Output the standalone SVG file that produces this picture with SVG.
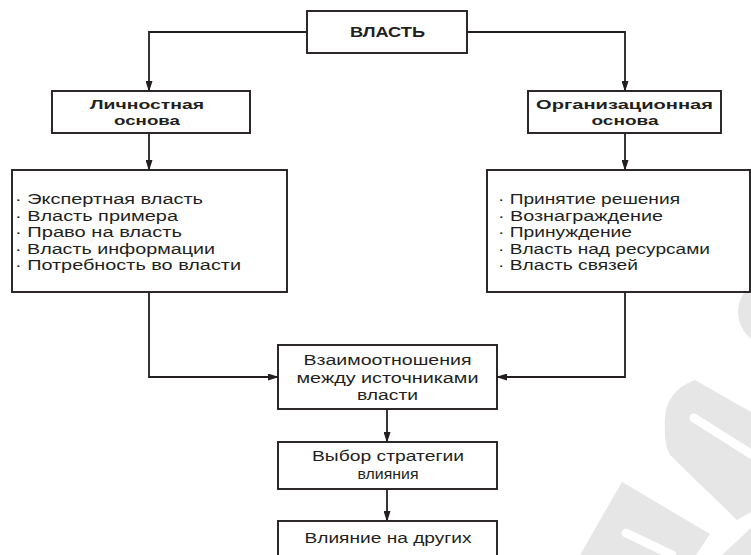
<svg xmlns="http://www.w3.org/2000/svg" width="751" height="555" viewBox="0 0 751 555">
<style>
.box{fill:#fff;stroke:#231f20;stroke-width:1.9}
.con{fill:none;stroke:#231f20;stroke-width:1.8}
text{font-family:"Liberation Sans",Arial,sans-serif;fill:#231f20;font-size:14px}
.b{font-weight:bold;font-size:13.5px}
.c{text-anchor:middle}
.wm{fill:#e6e6e6}
</style>
<defs>
<marker id="ah" markerUnits="userSpaceOnUse" markerWidth="11" markerHeight="7" refX="10" refY="3.5" orient="auto">
<path d="M0,0 L11,3.5 L0,7 z" fill="#231f20"/>
</marker>
</defs>
<rect width="751" height="555" fill="#fff"/>
<g id="watermark">
<circle class="wm" cx="772" cy="312" r="34"/>
<path class="wm" d="M665,428 Q662,392 695,380 L751,412 L751,512 L737,520 L670,455 Q664,445 665,428 z"/>
<path d="M694,418 L751,454" stroke="#fff" stroke-width="9" stroke-linecap="round" fill="none"/>
<path class="wm" d="M622,482 L710,534 L696,555 L580,555 z"/>
<path d="M626,533 L672,555" stroke="#fff" stroke-width="9" stroke-linecap="round" fill="none"/>
<path class="wm" d="M751,528 L751,555 L722,555 z"/>
</g>
<g id="connectors">
<path class="con" d="M307,32 H149 V91" marker-end="url(#ah)"/>
<path class="con" d="M467,32 H625 V91" marker-end="url(#ah)"/>
<path class="con" d="M149,133 V170" marker-end="url(#ah)"/>
<path class="con" d="M625,133 V170" marker-end="url(#ah)"/>
<path class="con" d="M149,292 V377 H278" marker-end="url(#ah)"/>
<path class="con" d="M625,292 V377 H497" marker-end="url(#ah)"/>
<path class="con" d="M387,409 V442" marker-end="url(#ah)"/>
<path class="con" d="M387,489 V521" marker-end="url(#ah)"/>
</g>
<g id="vlast">
<rect class="box" x="307" y="11" width="160" height="42"/>
<text class="b c" x="387.5" y="37" style="font-size:14.5px" textLength="75" lengthAdjust="spacingAndGlyphs">ВЛАСТЬ</text>
</g>
<g id="lichnostnaya">
<rect class="box" x="52" y="91" width="198" height="42"/>
<text class="b c" x="147" y="109" textLength="114" lengthAdjust="spacingAndGlyphs">Личностная</text>
<text class="b c" x="147" y="125" textLength="66" lengthAdjust="spacingAndGlyphs">основа</text>
</g>
<g id="organizacionnaya">
<rect class="box" x="528" y="91" width="193" height="42"/>
<text class="b c" x="624.5" y="109" textLength="177" lengthAdjust="spacingAndGlyphs">Организационная</text>
<text class="b c" x="625" y="125" textLength="67" lengthAdjust="spacingAndGlyphs">основа</text>
</g>
<g id="lich-list">
<rect class="box" x="12" y="170" width="275" height="122"/>
<text x="15" y="204" textLength="188" lengthAdjust="spacingAndGlyphs">· Экспертная власть</text>
<text x="15" y="220.5" textLength="163" lengthAdjust="spacingAndGlyphs">· Власть примера</text>
<text x="15" y="237" textLength="167" lengthAdjust="spacingAndGlyphs">· Право на власть</text>
<text x="15" y="253.5" textLength="200" lengthAdjust="spacingAndGlyphs">· Власть информации</text>
<text x="15" y="270" textLength="226" lengthAdjust="spacingAndGlyphs">· Потребность во власти</text>
</g>
<g id="org-list">
<rect class="box" x="487" y="170" width="263" height="122"/>
<text x="498" y="204" textLength="182" lengthAdjust="spacingAndGlyphs">· Принятие решения</text>
<text x="498" y="220.5" textLength="165" lengthAdjust="spacingAndGlyphs">· Вознаграждение</text>
<text x="498" y="237" textLength="134" lengthAdjust="spacingAndGlyphs">· Принуждение</text>
<text x="498" y="253.5" textLength="212" lengthAdjust="spacingAndGlyphs">· Власть над ресурсами</text>
<text x="498" y="270" textLength="140" lengthAdjust="spacingAndGlyphs">· Власть связей</text>
</g>
<g id="vzaimootnosheniya">
<rect class="box" x="278" y="345" width="219" height="64"/>
<text class="c" x="387.5" y="365" textLength="168" lengthAdjust="spacingAndGlyphs">Взаимоотношения</text>
<text class="c" x="387.5" y="383" textLength="182" lengthAdjust="spacingAndGlyphs">между источниками</text>
<text class="c" x="387.5" y="400" textLength="61" lengthAdjust="spacingAndGlyphs">власти</text>
</g>
<g id="vybor">
<rect class="box" x="278" y="442" width="219" height="47"/>
<text class="c" x="388" y="461" textLength="152" lengthAdjust="spacingAndGlyphs">Выбор стратегии</text>
<text class="c" x="388" y="479" textLength="61" lengthAdjust="spacingAndGlyphs">влияния</text>
</g>
<g id="vliyanie">
<rect class="box" x="278" y="521" width="219" height="40"/>
<text class="c" x="388" y="543" textLength="167" lengthAdjust="spacingAndGlyphs">Влияние на других</text>
</g>
</svg>
